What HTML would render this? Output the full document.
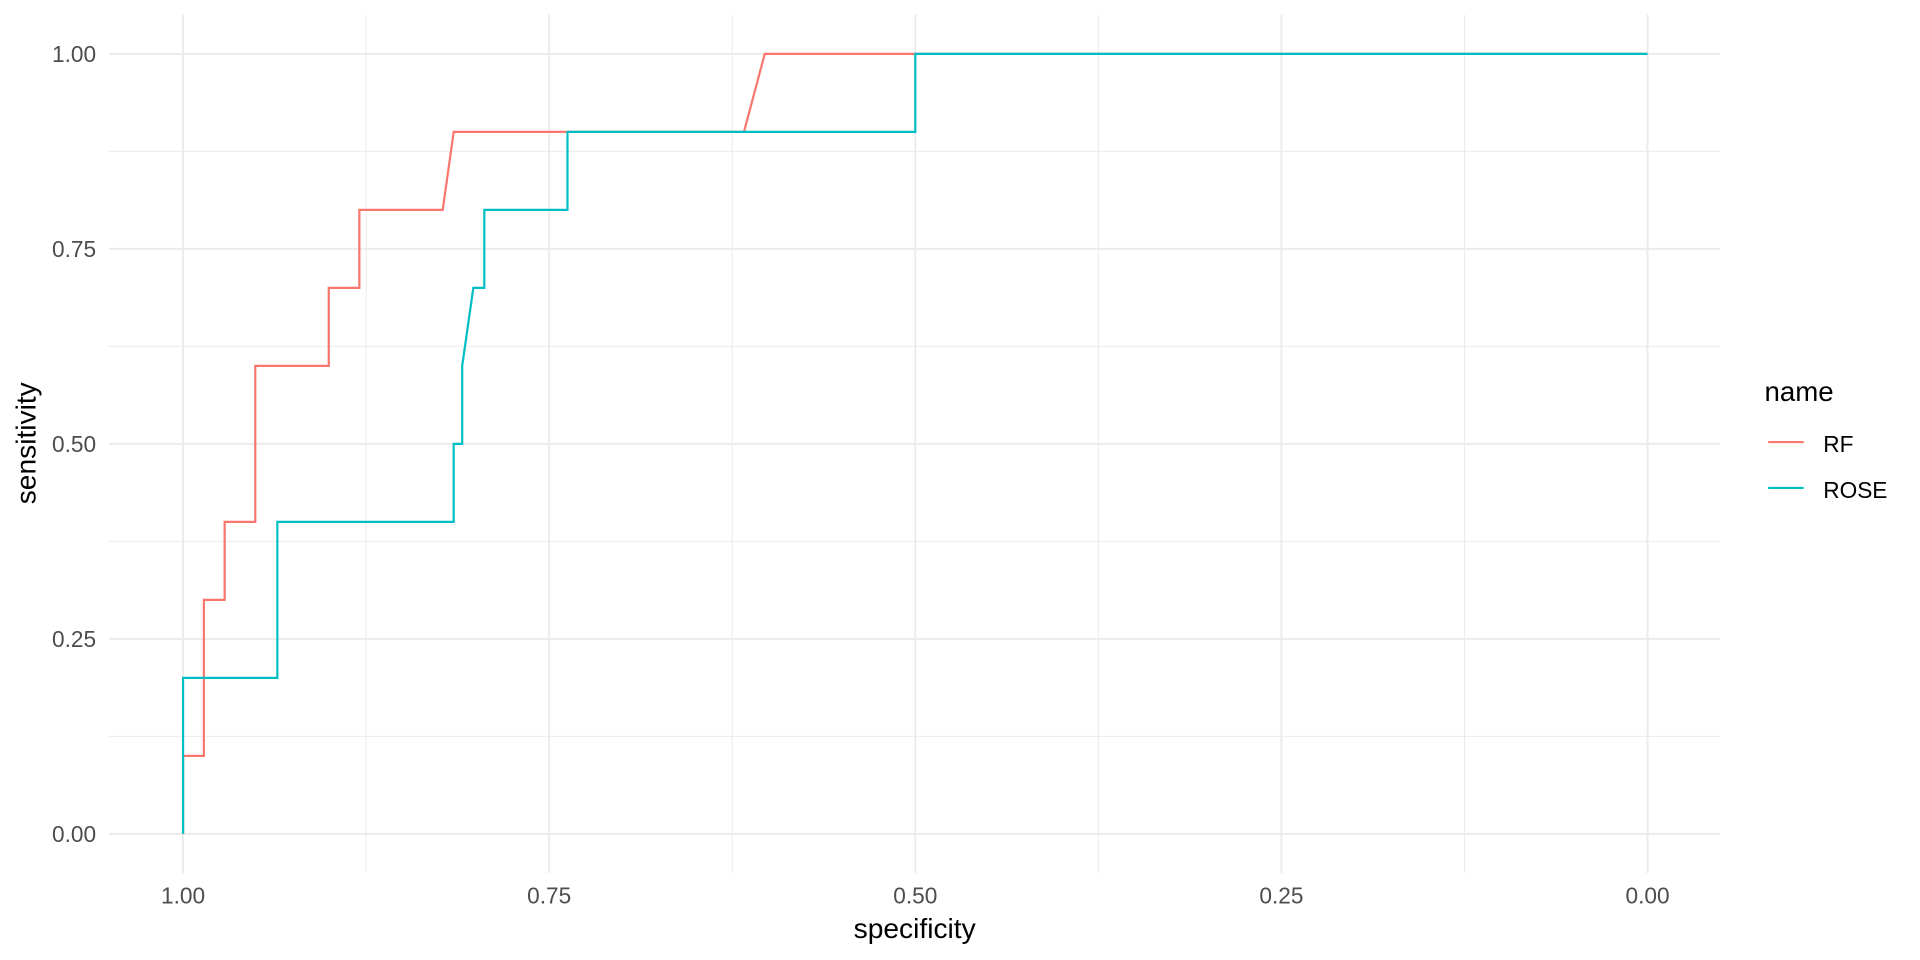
<!DOCTYPE html>
<html><head><meta charset="utf-8"><style>
body{margin:0;background:#fff;}
svg{display:block;font-family:"Liberation Sans",sans-serif;}
</style></head><body>
<svg id="chart" width="1920" height="960" viewBox="0 0 1568 784" preserveAspectRatio="none">
<g id="grid"></g><g id="series"></g><g id="axes"></g><g id="legend"></g>
</svg>
<script>
const xTicks=[1.00,0.75,0.50,0.25,0.00];
const yTicks=[0.00,0.25,0.50,0.75,1.00];
const rfSpec=[1,1,0.9858,0.9858,0.9716,0.9716,0.9507,0.9507,0.9005,0.9005,0.8796,0.8796,0.8227,0.8152,0.617,0.6028,0];
const rfSens=[0,0.1,0.1,0.3,0.3,0.4,0.4,0.6,0.6,0.7,0.7,0.8,0.8,0.9,0.9,1,1];
const roseSpec=[1,1,0.9356,0.9356,0.8152,0.8152,0.8094,0.8094,0.8018,0.7943,0.7943,0.7375,0.7375,0.5,0.5,0];
const roseSens=[0,0.2,0.2,0.4,0.4,0.5,0.5,0.6,0.7,0.7,0.8,0.8,0.9,0.9,1,1];
const seriesNames=["RF","ROSE"];
const colors=["#F8766D","#00BFC4"];
const NS="http://www.w3.org/2000/svg";
const X=v=>149.5+(1-v)*1196, Y=v=>681-v*637;
const L=89,R=1405,T=12,B=713;
function mk(p,t,a){const e=document.createElementNS(NS,t);for(const k in a)e.setAttribute(k,a[k]);p.appendChild(e);return e;}
const g=document.getElementById('grid'),ax=document.getElementById('axes'),s=document.getElementById('series'),lg=document.getElementById('legend');
for(let i=0;i<xTicks.length;i++){
 const v=xTicks[i];
 const l=mk(g,'line',{x1:X(v),x2:X(v),y1:T,y2:B,stroke:'#ebebeb','stroke-width':1.6});
 
 
 if(i<xTicks.length-1){const m=(v+xTicks[i+1])/2;
 const lm=mk(g,'line',{x1:X(m),x2:X(m),y1:T,y2:B,stroke:'#ebebeb','stroke-width':0.8});
 
 }
 const t=mk(ax,'text',{x:X(v),y:738,'text-anchor':'middle','font-size':18.5,fill:'#4d4d4d'});t.textContent=v.toFixed(2);
 
 
}
for(let i=0;i<yTicks.length;i++){
 const v=yTicks[i];
 const l=mk(g,'line',{x1:L,x2:R,y1:Y(v),y2:Y(v),stroke:'#ebebeb','stroke-width':1.6});
 
 
 if(i<yTicks.length-1){const m=(v+yTicks[i+1])/2;
 const lm=mk(g,'line',{x1:L,x2:R,y1:Y(m),y2:Y(m),stroke:'#ebebeb','stroke-width':0.8});
 
 }
 const t=mk(ax,'text',{x:78.5,y:Y(v)+6.5,'text-anchor':'end','font-size':18.5,fill:'#4d4d4d'});t.textContent=v.toFixed(2);
 
 
}
const xt=mk(ax,'text',{x:747,y:766,'text-anchor':'middle','font-size':23,fill:'#000'});xt.textContent='specificity';


const yt=mk(ax,'text',{x:0,y:0,transform:'translate(29,362) rotate(-90)','text-anchor':'middle','font-size':23,fill:'#000'});yt.textContent='sensitivity';


const data=[[rfSpec,rfSens],[roseSpec,roseSens]];
data.forEach((d,k)=>{
 const pts=d[0].map((v,i)=>X(v)+','+Y(d[1][i])).join(' ');
 const p=mk(s,'polyline',{points:pts,fill:'none',stroke:colors[k],'stroke-width':1.8});
 
 
});
const lt=mk(lg,'text',{x:1441,y:327.5,'font-size':22.6,fill:'#000'});lt.textContent='name';


seriesNames.forEach((n,k)=>{
 const y=361+k*37.5;
 const l=mk(lg,'line',{x1:1444,x2:1473,y1:y,y2:y,stroke:colors[k],'stroke-width':1.8});
 
 
 const t=mk(lg,'text',{x:1489,y:y+8,'font-size':18.5,fill:'#000'});t.textContent=n;
 
 
});
</script>
</body></html>
